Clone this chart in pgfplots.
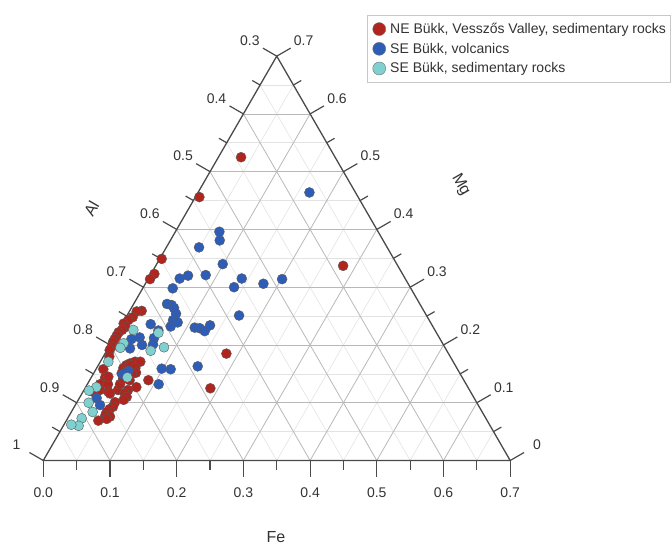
\documentclass[border=0pt]{standalone}
\usepackage{pgfplots}
\pgfplotsset{compat=1.18}
\usepackage{pgfplotstable}
\usepackage{fontspec}
\setmainfont{Liberation Sans}
\definecolor{redpt}{HTML}{B0261E}
\definecolor{bluept}{HTML}{2E5DB8}
\definecolor{cyanpt}{HTML}{80D0D0}
\definecolor{axisgray}{HTML}{4A4A4A}
\definecolor{txtgray}{HTML}{333333}

\pgfplotstableread{
Fe Mg
0.034 0.525
0.006 0.456
0.281 0.337
0.182 0.185
0.188 0.125
0.003 0.349
0.005 0.323
0.003 0.314
0.018 0.259
0.011 0.258
0.010 0.248
0.006 0.243
0.002 0.237
0.008 0.231
0.005 0.226
0.002 0.222
0.002 0.216
0.002 0.210
0.002 0.205
0.004 0.197
0.004 0.191
0.009 0.180
0.011 0.158
0.021 0.143
0.019 0.132
0.024 0.122
0.031 0.132
0.038 0.119
0.015 0.119
0.057 0.101
0.058 0.093
0.055 0.089
0.053 0.084
0.054 0.078
0.062 0.076
0.059 0.072
0.048 0.069
0.051 0.122
0.049 0.132
0.049 0.141
0.042 0.151
0.040 0.160
0.042 0.165
0.046 0.168
0.052 0.171
0.060 0.171
0.047 0.161
0.050 0.165
0.058 0.160
0.063 0.152
0.058 0.150
0.060 0.139
0.066 0.122
0.064 0.116
0.076 0.127
0.070 0.110
0.068 0.105
0.088 0.139
0.025 0.145
0.042 0.116
}\redtab

\pgfplotstableread{
Fe Mg
0.167 0.464
0.066 0.396
0.074 0.381
0.049 0.369
0.099 0.340
0.047 0.315
0.057 0.320
0.083 0.321
0.140 0.315
0.136 0.300
0.177 0.306
0.201 0.314
0.168 0.251
0.112 0.230
0.120 0.229
0.130 0.224
0.133 0.234
0.150 0.163
0.045 0.298
0.050 0.271
0.058 0.269
0.064 0.264
0.072 0.254
0.073 0.243
0.082 0.239
0.075 0.232
0.043 0.236
0.060 0.225
0.060 0.212
0.098 0.159
0.112 0.158
0.038 0.213
0.027 0.210
0.048 0.200
0.033 0.194
0.064 0.201
0.044 0.149
0.050 0.155
0.026 0.108
0.037 0.096
0.107 0.132
}\bluetab

\pgfplotstableread{
Fe Mg
0.062 0.221
0.066 0.190
0.083 0.196
0.022 0.226
0.019 0.203
0.018 0.195
0.012 0.171
0.054 0.144
0.016 0.127
0.008 0.121
0.018 0.100
0.032 0.084
0.021 0.073
0.023 0.060
0.011 0.062
}\cyantab

\begin{document}
\begin{tikzpicture}
\begin{axis}[
  scale only axis, width=671pt, height=547pt,
  xmin=-0.06492, xmax=0.94108, ymin=-0.12969, ymax=0.69040,
  hide axis, clip=false,
  legend style={at={(rel axis cs:0.547,0.9726)}, anchor=north west,
    draw=black!22, fill=white, font=\fontsize{14}{16}\selectfont,
    text=txtgray, inner xsep=2pt, inner ysep=6pt, row sep=4pt},
  legend cell align=left,
]
\coordinate (BL) at (rel axis cs:0,0);
\coordinate (TR) at (rel axis cs:1,1);
% minor grid
\pgfplotsinvokeforeach{1,3,...,13}{
  \draw[black!11, line width=0.6pt] (axis cs:0.025*#1,0.0433013*#1) -- (axis cs:0.7-0.025*#1,0.0433013*#1);
  \draw[black!11, line width=0.6pt] (axis cs:0.05*#1,0) -- (axis cs:0.35+0.025*#1,0.606218-0.0433013*#1);
  \draw[black!11, line width=0.6pt] (axis cs:0.025*#1,0.0433013*#1) -- (axis cs:0.05*#1,0);
}
% major grid
\pgfplotsinvokeforeach{2,4,...,12}{
  \draw[black!28, line width=0.8pt] (axis cs:0.025*#1,0.0433013*#1) -- (axis cs:0.7-0.025*#1,0.0433013*#1);
  \draw[black!28, line width=0.8pt] (axis cs:0.05*#1,0) -- (axis cs:0.35+0.025*#1,0.606218-0.0433013*#1);
  \draw[black!28, line width=0.8pt] (axis cs:0.025*#1,0.0433013*#1) -- (axis cs:0.05*#1,0);
}
% triangle
\draw[axisgray, line width=1.3pt, line join=round] (axis cs:0,0) -- (axis cs:0.7,0) -- (axis cs:0.35,0.606218) -- cycle;
% minor ticks
\pgfplotsinvokeforeach{1,3,...,13}{
  \draw[axisgray, line width=1.2pt] (axis cs:0.05*#1,0) -- (axis cs:0.05*#1,-0.0135);
  \draw[axisgray, line width=1.2pt] (axis cs:0.025*#1,0.0433013*#1) -- (axis cs:0.025*#1-0.01169,0.0433013*#1+0.00675);
  \draw[axisgray, line width=1.2pt] (axis cs:0.7-0.025*#1,0.0433013*#1) -- (axis cs:0.7-0.025*#1+0.01169,0.0433013*#1+0.00675);
}
% major ticks
\pgfplotsinvokeforeach{0,2,...,14}{
  \draw[axisgray, line width=1.2pt] (axis cs:0.05*#1,0) -- (axis cs:0.05*#1,-0.024);
  \draw[axisgray, line width=1.2pt] (axis cs:0.025*#1,0.0433013*#1) -- (axis cs:0.025*#1-0.020785,0.0433013*#1+0.012);
  \draw[axisgray, line width=1.2pt] (axis cs:0.7-0.025*#1,0.0433013*#1) -- (axis cs:0.7-0.025*#1+0.020785,0.0433013*#1+0.012);
}
% tick labels
\begin{scope}[font=\fontsize{14}{16}\selectfont, text=txtgray]
\node at (axis cs:0.0,-0.048) {0.0};
\node at (axis cs:0.1,-0.048) {0.1};
\node at (axis cs:0.2,-0.048) {0.2};
\node at (axis cs:0.3,-0.048) {0.3};
\node at (axis cs:0.4,-0.048) {0.4};
\node at (axis cs:0.5,-0.048) {0.5};
\node at (axis cs:0.6,-0.048) {0.6};
\node at (axis cs:0.7,-0.048) {0.7};
\node at (axis cs:-0.0403,0.02325) {1};
\node at (axis cs:0.0097,0.10985) {0.9};
\node at (axis cs:0.0597,0.19645) {0.8};
\node at (axis cs:0.1097,0.28305) {0.7};
\node at (axis cs:0.1597,0.36965) {0.6};
\node at (axis cs:0.2097,0.45625) {0.5};
\node at (axis cs:0.2597,0.54285) {0.4};
\node at (axis cs:0.3097,0.62945) {0.3};
\node at (axis cs:0.7403,0.02325) {0};
\node at (axis cs:0.6903,0.10985) {0.1};
\node at (axis cs:0.6403,0.19645) {0.2};
\node at (axis cs:0.5903,0.28305) {0.3};
\node at (axis cs:0.5403,0.36965) {0.4};
\node at (axis cs:0.4903,0.45625) {0.5};
\node at (axis cs:0.4403,0.54285) {0.6};
\node at (axis cs:0.3903,0.62945) {0.7};
\end{scope}
\begin{scope}[font=\fontsize{16}{18}\selectfont, text=txtgray]
\node[inner sep=0pt] at (axis cs:0.3489,-0.1147) {Fe};
\node[rotate=60, inner sep=0pt] at (axis cs:0.0720,0.3780) {Al};
\node[rotate=-60, inner sep=0pt] at (axis cs:0.6257,0.4130) {Mg};
\end{scope}

\addplot[only marks, mark=*, mark size=5pt, mark options={fill=redpt, draw=black!65, line width=0.4pt},
  legend image code/.code={\path[draw=none, fill=none] (0,0) -- (19pt,0); \draw[fill=redpt, draw=black!55, line width=0.4pt, solid] (10pt,0) circle (6.5pt);}]
  table[x expr=\thisrow{Fe}+0.5*\thisrow{Mg}, y expr=0.866025*\thisrow{Mg}] {\redtab};
\addlegendentry{NE Bükk, Vesszős Valley, sedimentary rocks}
\addplot[only marks, mark=*, mark size=5pt, mark options={fill=bluept, draw=black!65, line width=0.4pt},
  legend image code/.code={\path[draw=none, fill=none] (0,0) -- (19pt,0); \draw[fill=bluept, draw=black!55, line width=0.4pt, solid] (10pt,0) circle (6.5pt);}]
  table[x expr=\thisrow{Fe}+0.5*\thisrow{Mg}, y expr=0.866025*\thisrow{Mg}] {\bluetab};
\addlegendentry{SE Bükk, volcanics}
\addplot[only marks, mark=*, mark size=5pt, mark options={fill=cyanpt, draw=black!65, line width=0.4pt},
  legend image code/.code={\path[draw=none, fill=none] (0,0) -- (19pt,0); \draw[fill=cyanpt, draw=black!55, line width=0.4pt, solid] (10pt,0) circle (6.5pt);}]
  table[x expr=\thisrow{Fe}+0.5*\thisrow{Mg}, y expr=0.866025*\thisrow{Mg}] {\cyantab};
\addlegendentry{SE Bükk, sedimentary rocks}
\end{axis}
\pgfresetboundingbox
\path[use as bounding box] (BL) rectangle (TR);
\end{tikzpicture}
\end{document}
